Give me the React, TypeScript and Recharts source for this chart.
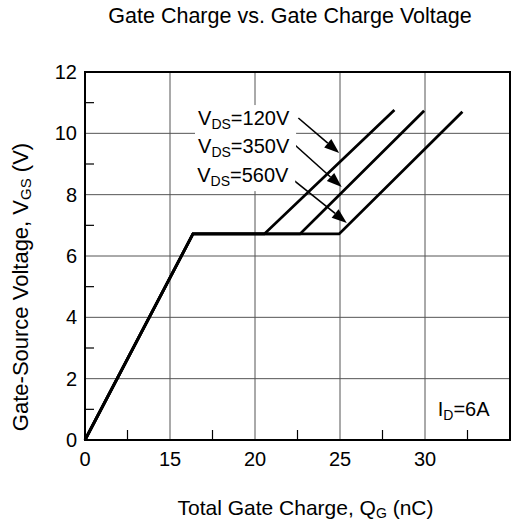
import React from "react";
import {
  CartesianGrid,
  Line,
  LineChart,
  ReferenceArea,
  ReferenceDot,
  ReferenceLine,
  XAxis,
  YAxis
} from "recharts";

const FONT = "'Liberation Sans', Arial, sans-serif";

// x is plotted on the evenly spaced grid of the original; labels are as printed
const xTicks = [0, 10, 20, 30, 40];
const xTickLabels = ["0", "15", "20", "25", "30"];
const xMinor = [5, 15, 25, 35, 45];
const yTicks = [0, 2, 4, 6, 8, 10, 12];
const yMinor = [1, 3, 5, 7, 9, 11];

const vds120 = [
  { q: 0, v: 0 },
  { q: 12.7, v: 6.72 },
  { q: 21.1, v: 6.72 },
  { q: 36.4, v: 10.76 }
];
const vds350 = [
  { q: 0, v: 0 },
  { q: 12.7, v: 6.72 },
  { q: 25.3, v: 6.72 },
  { q: 39.9, v: 10.74 }
];
const vds560 = [
  { q: 0, v: 0 },
  { q: 12.7, v: 6.72 },
  { q: 29.9, v: 6.72 },
  { q: 44.4, v: 10.7 }
];

const callouts = [
  { value: "120V", text: { q: 13.3, v: 10.27 }, from: { q: 25.1, v: 10.5 }, to: { q: 29.9, v: 9.36 } },
  { value: "350V", text: { q: 13.3, v: 9.36 }, from: { q: 24.7, v: 9.62 }, to: { q: 30.2, v: 8.25 } },
  { value: "560V", text: { q: 13.2, v: 8.41 }, from: { q: 24.5, v: 8.48 }, to: { q: 30.8, v: 7.08 } }
];

const currentNote = { q: 41.5, v: 0.78 };

const Arrow = (p: any) => {
  const { x1, y1, x2, y2 } = p;
  const a = Math.atan2(y2 - y1, x2 - x1);
  const L = 15;
  const W = 5.5;
  const bx = x2 - L * Math.cos(a);
  const by = y2 - L * Math.sin(a);
  const pts = [
    `${x2},${y2}`,
    `${bx - W * Math.sin(a)},${by + W * Math.cos(a)}`,
    `${bx + W * Math.sin(a)},${by - W * Math.cos(a)}`
  ].join(" ");
  return (
    <g>
      <line x1={x1} y1={y1} x2={bx} y2={by} stroke="#000" strokeWidth={1.6} />
      <polygon points={pts} fill="#000" />
    </g>
  );
};

const subLabel = (main: string, sub: string, rest: string, boxed = false) => (p: any) => (
  <g>
    {boxed && <rect x={p.cx - 3} y={p.cy - 20} width={101} height={29} fill="#fff" />}
    <text x={p.cx} y={p.cy} fontFamily={FONT} fontSize={20} fill="#000">
      {main}
      <tspan fontSize={14} dy={4}>
        {sub}
      </tspan>
      <tspan dy={-4}>{rest}</tspan>
    </text>
  </g>
);

const YMinorTick = (p: any) => {
  const x = Math.min(p.x1, p.x2);
  return <line x1={x} y1={p.y1} x2={x + 9} y2={p.y1} stroke="#000" strokeWidth={1.2} />;
};

const XMinorTick = (p: any) => {
  const y = Math.max(p.y1, p.y2);
  return <line x1={p.x1} y1={y} x2={p.x1} y2={y - 10} stroke="#000" strokeWidth={1.2} />;
};

export default function App() {
  return (
    <div style={{ position: "absolute", left: 0, top: 0, width: 512, height: 524, background: "#fff" }}>
      <div
        style={{
          position: "absolute",
          top: 6,
          left: 0,
          width: 512,
          paddingLeft: 68,
          boxSizing: "border-box",
          textAlign: "center",
          fontFamily: FONT,
          fontSize: 21.5,
          lineHeight: "21px",
          color: "#000"
        }}
      >
        Gate Charge vs. Gate Charge Voltage
      </div>
      <LineChart width={512} height={524} margin={{ top: 72, right: 2, left: 0, bottom: 0 }}>
        <CartesianGrid stroke="#555" strokeWidth={1} />
        <XAxis
          type="number"
          dataKey="q"
          domain={[0, 50]}
          ticks={xTicks}
          tickFormatter={(v: number) => xTickLabels[xTicks.indexOf(v)] ?? ""}
          tickLine={false}
          axisLine={false}
          tickMargin={6}
          height={84}
          tick={{ fill: "#000", fontSize: 20, fontFamily: FONT }}
          label={{
            content: (props: any) => {
              const vb = props.viewBox;
              return (
                <text
                  x={vb.x + vb.width / 2 + 8}
                  y={vb.y + 75}
                  textAnchor="middle"
                  fontFamily={FONT}
                  fontSize={21}
                  fill="#000"
                >
                  Total Gate Charge, Q
                  <tspan fontSize={14} dy={3}>
                    G
                  </tspan>
                  <tspan dy={-3}> (nC)</tspan>
                </text>
              );
            }
          }}
        />
        <YAxis
          type="number"
          domain={[0, 12]}
          ticks={yTicks}
          tickLine={false}
          axisLine={false}
          width={85}
          tick={{ fill: "#000", fontSize: 20, fontFamily: FONT }}
          label={{
            content: (props: any) => {
              const vb = props.viewBox;
              const cx = vb.x + 28;
              const cy = vb.y + vb.height / 2 + 31;
              return (
                <text
                  x={cx}
                  y={cy}
                  transform={`rotate(-90 ${cx} ${cy})`}
                  textAnchor="middle"
                  fontFamily={FONT}
                  fontSize={22}
                  fill="#000"
                >
                  Gate-Source Voltage, V
                  <tspan fontSize={15} dy={3}>
                    GS
                  </tspan>
                  <tspan dy={-3}> (V)</tspan>
                </text>
              );
            }
          }}
        />
        {yMinor.map((v) => (
          <ReferenceLine key={`ym${v}`} y={v} shape={YMinorTick} />
        ))}
        {xMinor.map((v) => (
          <ReferenceLine key={`xm${v}`} x={v} shape={XMinorTick} />
        ))}
        <ReferenceArea x1={0} x2={50} y1={0} y2={12} fill="none" stroke="#000" strokeWidth={2} />
        <Line data={vds120} dataKey="v" stroke="#000" strokeWidth={2.8} dot={false} isAnimationActive={false} type="linear" />
        <Line data={vds350} dataKey="v" stroke="#000" strokeWidth={2.8} dot={false} isAnimationActive={false} type="linear" />
        <Line data={vds560} dataKey="v" stroke="#000" strokeWidth={2.8} dot={false} isAnimationActive={false} type="linear" />
        {callouts.map((c) => (
          <ReferenceDot key={`t${c.value}`} x={c.text.q} y={c.text.v} r={0} shape={subLabel("V", "DS", `=${c.value}`, true)} />
        ))}
        {callouts.map((c) => (
          <ReferenceLine
            key={`a${c.value}`}
            segment={[
              { x: c.from.q, y: c.from.v },
              { x: c.to.q, y: c.to.v }
            ]}
            shape={Arrow}
          />
        ))}
        <ReferenceDot x={currentNote.q} y={currentNote.v} r={0} shape={subLabel("I", "D", "=6A")} />
      </LineChart>
    </div>
  );
}
